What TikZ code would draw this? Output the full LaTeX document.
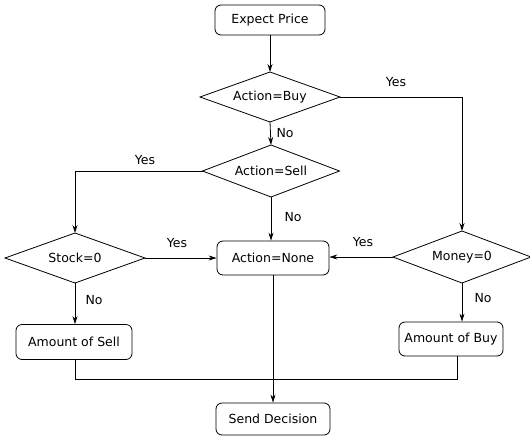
\documentclass[tikz,border=0pt]{standalone}
\usepackage{fontspec}
\setmainfont{DejaVu Sans}
\usetikzlibrary{shapes.geometric,arrows.meta}
\begin{document}
\begin{tikzpicture}[x=1pt,y=-1pt,
  font=\fontsize{12.5}{15}\selectfont,
  line width=0.8pt,
  boxnode/.style={draw,rounded corners=6pt,inner sep=0pt},
  decision/.style={draw,diamond,aspect=2.8,inner sep=0pt,outer sep=0pt},
  arr/.style={-{Stealth[length=8pt,width=5pt]}},
  lbl/.style={inner sep=1pt}]
\useasboundingbox (0,0) rectangle (530,437);
\node[boxnode,minimum width=110pt,minimum height=30pt] (ep) at (270,20) {Expect Price};
\node[decision,minimum width=140pt,minimum height=50pt] (buy) at (270,97) {Action=Buy};
\node[decision,minimum width=137pt,minimum height=52pt] (sell) at (271,171) {Action=Sell};
\node[boxnode,minimum width=112pt,minimum height=34pt] (none) at (273,258) {Action=None};
\node[decision,minimum width=140pt,minimum height=50pt] (stock) at (75,258) {Stock=0};
\node[decision,minimum width=138pt,minimum height=52pt] (money) at (462,257) {Money=0};
\node[boxnode,minimum width=116pt,minimum height=35pt] (asell) at (74,342) {Amount of Sell};
\node[boxnode,minimum width=104pt,minimum height=34pt] (abuy) at (451,339) {Amount of Buy};
\node[boxnode,minimum width=114pt,minimum height=32pt] (send) at (273,419) {Send Decision};
\coordinate (j) at (273,379);

\draw[arr] (ep.south) -- (buy.north);
\draw[arr] (buy.east) -| (money.north);
\node[lbl] (ybuy) at (396,82) {Yes};
\draw[arr] (buy.south) -- (sell.north);
\node[lbl] (nbuy) at (285,133) {No};
\draw[arr] (sell.west) -| (stock.north);
\node[lbl] (ysell) at (145,160) {Yes};
\draw[arr] (sell.south) -- (sell.south |- none.north);
\node[lbl] (nsell) at (293,217) {No};
\draw[arr] (stock.east) -- (stock.east -| none.west);
\node[lbl] (ystock) at (177,243) {Yes};
\draw[arr] (money.west) -- (money.west -| none.east);
\node[lbl] (ymoney) at (363,242) {Yes};
\draw[arr] (stock.south) -- (stock.south |- asell.north);
\node[lbl] (nstock) at (94,300) {No};
\draw[arr] (money.south) -- (money.south |- abuy.north);
\node[lbl] (nmoney) at (483,298) {No};
\draw (asell.south -| stock.south) |- (j);
\draw (abuy.south -| money.south) ++(-5,0) |- (j);
\draw[arr] (none.south) -- (send.north);
\end{tikzpicture}
\end{document}
